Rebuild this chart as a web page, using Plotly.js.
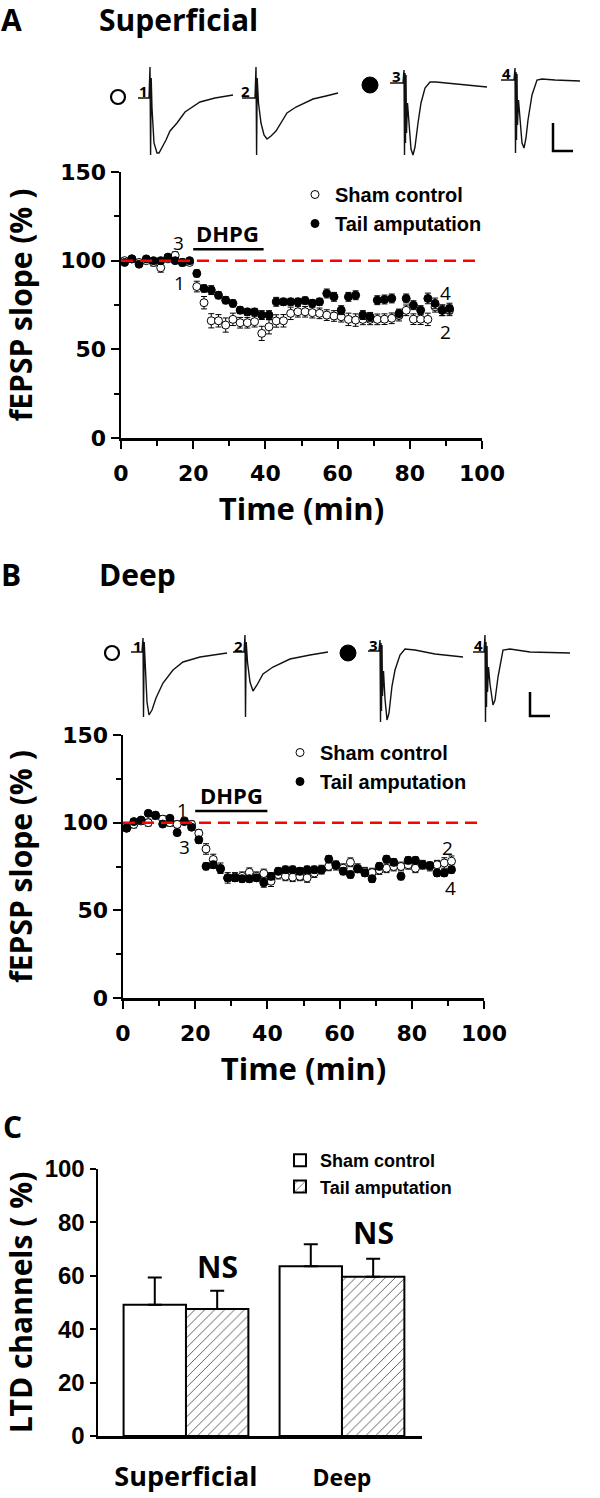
<!DOCTYPE html>
<html><head><meta charset="utf-8">
<script src="https://cdn.plot.ly/plotly-3.0.1.min.js"></script>
<style>html,body{margin:0;padding:0;background:#fff}#chart{width:600px;height:1498px}</style>
</head><body><div id="chart"></div>
<script>
// ---------- data ----------
const timeMin = [1,3,5,7,9,11,13,15,17,19,21,23,25,27,29,31,33,35,37,39,41,43,45,47,49,51,53,55,57,59,61,63,65,67,69,71,73,75,77,79,81,83,85,87,89,91];
const seriesNames = ['Sham control', 'Tail amputation'];

const supShamSlope = [100,101,99,100,99,96,101,103,99,99,85.4,76.3,66.1,66.1,63.7,66.9,65,65,65.6,59,62.7,66,66.1,70.3,71.2,71.2,70.7,70.3,69.3,68.8,68.4,66.9,66.5,66.9,66.9,66.9,67,67.5,69,72,67,67,66.9,74,72,72];
const supShamErr   = [1.5,1.5,1.5,1.5,2,2.5,1.5,2,2,1.5,3,3.5,4,3.5,4,3.5,3,3,3,4,4,3.5,3.5,3.5,3,3,3,3,3,3,3,3.5,3.5,3,3,3,3,3,3,3,3,3,3.5,3,3,3];
const supTailSlope = [99,101,98,101,100,100,102,100,99,100,92.8,84.3,83.4,80.5,77.7,75.9,72.1,71.1,71.1,69.3,69.3,76.8,76.8,76.8,76.8,77.5,76,76.8,81.5,79.6,72.1,79.6,80.5,69.3,68.3,77.7,78.1,78.7,70.2,78.7,74.9,72.1,78.7,75.9,72,73];
const supTailErr   = [1,1,1,1,1,1,1.5,1,1,1,2,2,2.5,2,2,2,2,2,2,2.5,2.5,2.5,2,2,2,2,2,2,2.5,2.5,2.5,2.5,2.5,2.5,2.5,2.5,2.5,2.5,2.5,2.5,2.5,2.5,3,3,3,3];

const deepShamSlope = [97,99,101,100,104,102,100,99,101,99,94,85,79,74,68.5,69,69.4,71.7,69.4,71,66.6,70.4,69.4,68.9,69.4,68.5,71.3,73.2,75.1,75.5,74,77.4,74,72,71.5,73,74,75,75,76,74,76,75,76,77,78];
const deepShamErr   = [2,2,2,2,2,2,2,2,2,2,2,3,3,3,3,2.5,2.5,2.5,2.5,2.5,3,2.5,2.5,2.5,2.5,2.5,2.5,2.5,2.5,2.5,2.5,2.5,2.5,2.5,2.5,2.5,2.5,2.5,2.5,2.5,2.5,2.5,2.5,2.5,3,3];
const deepTailSlope = [96.8,100.6,101.5,105.3,104.3,99.2,102.5,94.3,100.6,97.4,90.2,75.1,76,73.6,68.5,68.5,68,68,68.5,65.7,69.4,72.3,73.2,73.2,72.3,73.2,73.2,73.2,79.2,76,72.3,70.4,73.6,71.3,68,75.1,79.2,77.4,69.4,78.5,78.5,76,75.5,71.3,71.3,73.2];
const deepTailErr   = [1.5,1.5,1.5,1.5,1.5,1.5,1.5,1.5,1.5,1.5,2,2,2,2,2,2,2,2,2,2.5,2,2,2,2,2,2,2,2,2,2,2,2,2,2,2,2,2,2,2,2,2,2,2,2,2,2];

const ltdGroups = ['Superficial', 'Deep'];
const ltdSham = [49.2, 63.6];
const ltdShamErr = [10.2, 8.2];
const ltdTail = [47.6, 59.6];
const ltdTailErr = [6.8, 6.8];

// example fEPSP waveforms (relative time, relative amplitude)
const waveA1Dt = [-12,-1,0,0.6,1.2,2,4,7,9,12,16,20,27,35,50,65,83];
const waveA1Amp = [0,0,31,-57,20,-10,-45,-55,-55,-50,-42,-33,-25,-14,-4,0,3];
const waveA2Dt = [-14,-1,0,0.6,1.2,2.5,5,8,11,15,20,25,31,40,57,70,82];
const waveA2Amp = [0,0,31,-57,20,-5,-25,-37,-41,-38,-33,-25,-15,-9,-1,2,5];
const waveA3Dt = [-14,-1,0,0.5,1,1.5,2,2.5,3.5,5,7,9,11,14,17,21,26,32,50,83];
const waveA3Amp = [0,0,13,-72,10,-60,8,-50,-20,-45,-66,-72,-64,-40,-20,-5,1,1,-1,-4];
const waveA4Dt = [-14,-1,0,0.5,1,1.5,2,2.5,3.5,5,7,9,11,13,17,22,27,40,65];
const waveA4Amp = [0,0,12,-73,8,-60,6,-45,-20,-40,-63,-68,-58,-40,-15,0,1,0,-1];
const waveB1Dt = [-12,-1,0,0.5,1.2,2.5,4,6,9,13,17,20,30,40,57,84];
const waveB1Amp = [0,0,14,-65,10,-20,-50,-63,-58,-46,-37,-31,-18,-10,-5,-1];
const waveB2Dt = [-12,-1,0,0.5,1.2,2.5,5,8,12,18,28,45,65,83];
const waveB2Amp = [0,0,17,-65,10,-10,-30,-39,-33,-22,-15,-7,-3,0];
const waveB3Dt = [-12,-1,0,0.5,1,1.5,2,2.5,3.5,5,7,9,12,15,20,25,35,55,83];
const waveB3Amp = [0,0,11,-71,8,-60,6,-45,-20,-48,-69,-62,-35,-19,-4,2,1,-3,-6];
const waveB4Dt = [-12,-1,0,0.5,1,1.5,2,2.5,3.5,5,8,10,13,18,25,45,85];
const waveB4Amp = [0,0,17,-70,10,-55,6,-40,-15,-32,-53,-48,-25,2,3,0,-1];
const waveLabels = ['1','2','3','4'];

// ---------- layout helpers ----------
const W = 600, H = 1498;
const PX = x => x / W, PY = y => 1 - y / H;
const TITLE_FONT = 'Open Sans, sans-serif';
const TICK_FONT = 'DejaVu Sans, sans-serif';
const LEG_FONT = 'Liberation Sans, Arial, sans-serif';

function waveTrace(dt, amp, ox, oy, id) {
  return {
    x: dt.map(d => d + ox), y: amp.map(a => oy - a),
    xaxis: 'x4', yaxis: 'y4', type: 'scatter', mode: 'lines',
    line: {color: '#111', width: 1.4}, showlegend: false, hoverinfo: 'skip', name: id
  };
}

function slopeTrace(y, err, idx, ax, leg) {
  const open = idx === 0;
  return {
    x: timeMin, y: y, type: 'scatter', mode: 'markers', name: seriesNames[idx],
    xaxis: 'x' + ax, yaxis: 'y' + ax, legend: leg, legendgroup: leg + idx,
    marker: {size: 8, symbol: 'circle', color: open ? '#fff' : '#000', line: {color: '#000', width: 1}},
    error_y: {type: 'data', array: err, visible: true, color: '#000', thickness: 1, width: 3}
  };
}

const data = [
  slopeTrace(supShamSlope, supShamErr, 0, '', 'legend'),
  slopeTrace(supTailSlope, supTailErr, 1, '', 'legend'),
  slopeTrace(deepShamSlope, deepShamErr, 0, '2', 'legend2'),
  slopeTrace(deepTailSlope, deepTailErr, 1, '2', 'legend2'),
  {
    x: [0, 1], y: ltdSham, type: 'bar', name: seriesNames[0], xaxis: 'x3', yaxis: 'y3',
    legend: 'legend3', legendgroup: 'c0',
    marker: {color: '#fff', line: {color: '#000', width: 2}},
    error_y: {type: 'data', symmetric: false, array: ltdShamErr, arrayminus: [0, 0], color: '#000', thickness: 2, width: 7}
  },
  {
    x: [0, 1], y: ltdTail, type: 'bar', name: seriesNames[1], xaxis: 'x3', yaxis: 'y3',
    legend: 'legend3', legendgroup: 'c1',
    marker: {color: '#fff', line: {color: '#000', width: 2},
      pattern: {shape: '/', fgcolor: '#444', bgcolor: '#fff', size: 7, solidity: 0.12}},
    error_y: {type: 'data', symmetric: false, array: ltdTailErr, arrayminus: [0, 0], color: '#000', thickness: 2, width: 7}
  },
  waveTrace(waveA1Dt, waveA1Amp, 150, 98, 'A1'),
  waveTrace(waveA2Dt, waveA2Amp, 256, 98, 'A2'),
  waveTrace(waveA3Dt, waveA3Amp, 404, 83, 'A3'),
  waveTrace(waveA4Dt, waveA4Amp, 515, 80, 'A4'),
  waveTrace(waveB1Dt, waveB1Amp, 143, 652, 'B1'),
  waveTrace(waveB2Dt, waveB2Amp, 245, 652, 'B2'),
  waveTrace(waveB3Dt, waveB3Amp, 380, 651, 'B3'),
  waveTrace(waveB4Dt, waveB4Amp, 485, 652, 'B4')
];

function timeAxisX(domain, anchor) {
  return {
    domain: domain, anchor: anchor, range: [0, 100], tick0: 0, dtick: 20,
    showline: true, linecolor: '#000', linewidth: 2.5, zeroline: false, showgrid: false,
    ticks: 'outside', ticklen: 8, tickwidth: 2, tickcolor: '#000', ticklabelstandoff: 6,
    minor: {dtick: 10, ticks: 'outside', ticklen: 5, tickwidth: 2, tickcolor: '#000', showgrid: false},
    tickfont: {family: TICK_FONT, size: 22, weight: 'bold', color: '#000'},
    title: {text: 'Time (min)', font: {family: TITLE_FONT, size: 31, weight: 'bold', color: '#000'}, standoff: 14}
  };
}
function slopeAxisY(domain, anchor) {
  return {
    domain: domain, anchor: anchor, range: [0, 150], tick0: 0, dtick: 50,
    showline: true, linecolor: '#000', linewidth: 2.5, zeroline: false, showgrid: false,
    ticks: 'outside', ticklen: 8, tickwidth: 2, tickcolor: '#000',
    minor: {dtick: 25, ticks: 'outside', ticklen: 5, tickwidth: 2, tickcolor: '#000', showgrid: false},
    tickfont: {family: TICK_FONT, size: 22, weight: 'bold', color: '#000'},
    title: {text: 'fEPSP slope (% )', font: {family: TITLE_FONT, size: 30, weight: 'bold', color: '#000'}, standoff: 33}
  };
}

const legendBase = {
  xanchor: 'left', yanchor: 'top', bgcolor: 'rgba(0,0,0,0)', borderwidth: 0,
  tracegroupgap: 3, itemwidth: 30, traceorder: 'normal'
};

const numFont = {family: TITLE_FONT, size: 19, color: '#000'};
const waveNumFont = {family: TITLE_FONT, size: 15, weight: 'bold', color: '#000'};
function ann(text, x, y, xref, yref, font, extra) {
  return Object.assign({text: text, x: x, y: y, xref: xref, yref: yref, showarrow: false, font: font}, extra || {});
}

const headerFont = {family: TITLE_FONT, size: 30, weight: 'bold', color: '#000'};
const hdr = {xanchor: 'left', yanchor: 'middle', borderpad: 0};

const annotations = [
  ann('A', PX(0), PY(19), 'paper', 'paper', headerFont, hdr),
  ann('Superficial', PX(98), PY(19), 'paper', 'paper', headerFont, hdr),
  ann('B', PX(0), PY(575), 'paper', 'paper', headerFont, hdr),
  ann('Deep', PX(98), PY(575), 'paper', 'paper', headerFont, hdr),
  ann('C', PX(2), PY(1126), 'paper', 'paper', headerFont, hdr),
  // panel A
  ann('DHPG', 29.5, 115.5, 'x', 'y', {family: TITLE_FONT, size: 22, weight: 'bold', color: '#000'}),
  ann('3', 16, 110, 'x', 'y', numFont),
  ann('1', 16.3, 87.6, 'x', 'y', numFont),
  ann('4', 89.8, 82, 'x', 'y', numFont),
  ann('2', 89.8, 59.5, 'x', 'y', numFont),
  // panel B
  ann('DHPG', 30, 115.8, 'x2', 'y2', {family: TITLE_FONT, size: 22, weight: 'bold', color: '#000'}),
  ann('1', 16.5, 107.2, 'x2', 'y2', numFont),
  ann('3', 17, 86.3, 'x2', 'y2', numFont),
  ann('2', 90, 85.5, 'x2', 'y2', numFont),
  ann('4', 90.6, 62.7, 'x2', 'y2', numFont),
  // panel C
  ann('NS', 0.2, 63.3, 'x3', 'y3', {family: TITLE_FONT, size: 30, weight: 'bold', color: '#000'}),
  ann('NS', 1.2, 76.2, 'x3', 'y3', {family: TITLE_FONT, size: 30, weight: 'bold', color: '#000'})
];
// waveform labels
[[143, 91], [245, 91], [396, 76], [506, 73]].forEach((p, i) =>
  annotations.push(ann(waveLabels[i], p[0], p[1], 'x4', 'y4', waveNumFont)));
[[137, 646], [238, 646], [373, 645], [478, 645]].forEach((p, i) =>
  annotations.push(ann(waveLabels[i], p[0], p[1], 'x4', 'y4', waveNumFont)));

const redLine = {color: '#ff0000', width: 2.5, dash: '12px,7px'};
const blk = {color: '#000', width: 2.5};
const shapes = [
  {type: 'line', xref: 'x', yref: 'y', x0: 0, x1: 99, y0: 100, y1: 100, line: redLine},
  {type: 'line', xref: 'x2', yref: 'y2', x0: 0, x1: 99, y0: 100, y1: 100, line: redLine},
  {type: 'line', xref: 'x', yref: 'y', x0: 20, x1: 39.5, y0: 106.5, y1: 106.5, line: blk},
  {type: 'line', xref: 'x2', yref: 'y2', x0: 20, x1: 40, y0: 106.7, y1: 106.7, line: blk},
  // scale bars
  {type: 'path', xref: 'x4', yref: 'y4', path: 'M553,123 L553,151 L573,151', line: blk},
  {type: 'path', xref: 'x4', yref: 'y4', path: 'M530,692 L530,716 L550,716', line: blk},
  // group symbols next to waveforms
  {type: 'circle', xref: 'x4', yref: 'y4', x0: 111, x1: 125, y0: 90, y1: 104, line: {color: '#000', width: 2.2}, fillcolor: '#fff'},
  {type: 'circle', xref: 'x4', yref: 'y4', x0: 362, x1: 378, y0: 77, y1: 93, line: {color: '#000', width: 1}, fillcolor: '#000'},
  {type: 'circle', xref: 'x4', yref: 'y4', x0: 105, x1: 119, y0: 646, y1: 660, line: {color: '#000', width: 2.2}, fillcolor: '#fff'},
  {type: 'circle', xref: 'x4', yref: 'y4', x0: 340, x1: 356, y0: 645, y1: 661, line: {color: '#000', width: 1}, fillcolor: '#000'}
];

const layout = {
  width: W, height: H, margin: {l: 0, r: 0, t: 0, b: 0},
  paper_bgcolor: '#fff', plot_bgcolor: 'rgba(0,0,0,0)',
  showlegend: true, barmode: 'group', bargap: 0.2, bargroupgap: 0,
  xaxis: timeAxisX([PX(121), PX(482)], 'y'),
  yaxis: slopeAxisY([PY(438), PY(172)], 'x'),
  xaxis2: timeAxisX([PX(123), PX(484)], 'y2'),
  yaxis2: slopeAxisY([PY(998), PY(735)], 'x2'),
  xaxis3: {
    domain: [PX(98), PX(422)], anchor: 'y3', range: [-0.564, 1.513],
    tickvals: [0, 1],
    ticktext: ['<span style="font-size:27px">' + ltdGroups[0] + '</span>', '<span style="font-size:23px">' + ltdGroups[1] + '</span>'],
    ticks: '', showline: true, linecolor: '#000', linewidth: 2.5, zeroline: false, showgrid: false,
    ticklabelstandoff: 15,
    tickfont: {family: TITLE_FONT, size: 27, weight: 'bold', color: '#000'}
  },
  yaxis3: {
    domain: [PY(1436), PY(1169)], anchor: 'x3', range: [0, 100], dtick: 20,
    showline: true, linecolor: '#000', linewidth: 2.5, zeroline: false, showgrid: false,
    ticks: 'outside', ticklen: 6, tickwidth: 2, tickcolor: '#000',
    tickfont: {family: LEG_FONT, size: 24, weight: 'bold', color: '#000'},
    title: {text: 'LTD channels ( %)', font: {family: TITLE_FONT, size: 30, weight: 'bold', color: '#000'}, standoff: 20}
  },
  xaxis4: {domain: [0, 1], anchor: 'y4', range: [0, W], visible: false, fixedrange: true},
  yaxis4: {domain: [0, 1], anchor: 'x4', range: [H, 0], visible: false, fixedrange: true},
  legend: Object.assign({}, legendBase, {x: PX(295), y: PY(175),
    font: {family: LEG_FONT, size: 20, weight: 'bold', color: '#000'}}),
  legend2: Object.assign({}, legendBase, {x: PX(280), y: PY(733),
    font: {family: LEG_FONT, size: 20, weight: 'bold', color: '#000'}}),
  legend3: Object.assign({}, legendBase, {x: PX(280), y: PY(1142),
    font: {family: LEG_FONT, size: 18, weight: 'bold', color: '#000'}}),
  annotations: annotations,
  shapes: shapes
};

Plotly.newPlot('chart', data, layout, {staticPlot: true, displayModeBar: false});
</script>
</body></html>
